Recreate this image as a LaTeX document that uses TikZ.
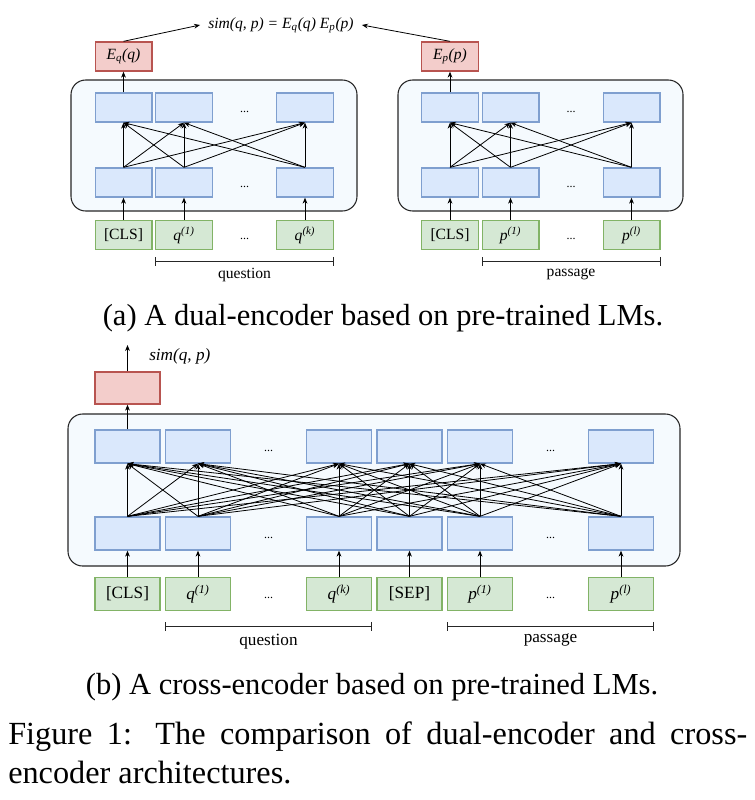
\documentclass[tikz,border=0pt]{standalone}
\usepackage{fontspec}
\setmainfont{Liberation Serif}
\usetikzlibrary{arrows.meta}

\definecolor{encfill}{HTML}{DAE8FC}
\definecolor{encdraw}{HTML}{7F9FCF}
\definecolor{tokfill}{HTML}{D5E8D4}
\definecolor{tokdraw}{HTML}{82B366}
\definecolor{outfill}{HTML}{F3CDCB}
\definecolor{outdraw}{HTML}{B85450}
\definecolor{panelfill}{HTML}{F5FAFE}

\tikzset{
  dualbox/.style={line width=1pt, minimum width=42.5pt, minimum height=21.75pt, inner sep=0pt, font=\fontsize{11.7}{14}\selectfont},
  crossbox/.style={line width=1pt, minimum width=48.75pt, minimum height=24.75pt, inner sep=0pt, font=\fontsize{12.9}{15}\selectfont},
  enc/.style={draw=encdraw, fill=encfill},
  tok/.style={draw=tokdraw, fill=tokfill},
  outp/.style={draw=outdraw, fill=outfill},
  panel/.style={draw=black!85, line width=0.8pt, fill=panelfill, rounded corners=11pt},
  arr/.style={-{Stealth[length=4.5pt,width=3.6pt]}, line width=0.6pt},
  brk/.style={{Bar[width=6.5pt]}-{Bar[width=6.5pt]}, line width=0.75pt, draw=black!85},
  dotsnode/.style={inner sep=0pt, font=\fontsize{9}{9}\selectfont},
}

\begin{document}
\begin{tikzpicture}[x=0.75pt,y=0.75pt,yscale=-1,xscale=1]
\useasboundingbox (0,0) rectangle (754,800);

%%% (a) dual-encoder

%Rounded Rect [left encoder]
\draw [panel] (71,80) rectangle (357,211);
%Rounded Rect [right encoder]
\draw [panel] (398,80) rectangle (683,211);

% left encoder: top row, bottom row, inputs
\node [dualbox, enc] (lt1) at (123.5,107.5) {};
\node [dualbox, enc] (lt2) at (184,107.5) {};
\node [dualbox, enc] (lt3) at (305,107.5) {};
\node [dualbox, enc] (lb1) at (123.5,182.5) {};
\node [dualbox, enc] (lb2) at (184,182.5) {};
\node [dualbox, enc] (lb3) at (305,182.5) {};
\node [dualbox, tok] (li1) at (123.5,235) {[CLS]};
\node [dualbox, tok] (li2) at (184,235) {\textit{q}\textsuperscript{\textit{(1)}}};
\node [dualbox, tok] (li3) at (305,235) {\textit{q}\textsuperscript{\textit{(k)}}};
\node [dotsnode] (ltd) at (244.5,112) {...};
\node [dotsnode] (lbd) at (244.5,187) {...};
\node [dotsnode] (lid) at (244.5,239) {...};

% right encoder: top row, bottom row, inputs
\node [dualbox, enc] (rt1) at (450,107.5) {};
\node [dualbox, enc] (rt2) at (510.5,107.5) {};
\node [dualbox, enc] (rt3) at (631.5,107.5) {};
\node [dualbox, enc] (rb1) at (450,182.5) {};
\node [dualbox, enc] (rb2) at (510.5,182.5) {};
\node [dualbox, enc] (rb3) at (631.5,182.5) {};
\node [dualbox, tok] (ri1) at (450,235) {[CLS]};
\node [dualbox, tok] (ri2) at (510.5,235) {\textit{p}\textsuperscript{\textit{(1)}}};
\node [dualbox, tok] (ri3) at (631.5,235) {\textit{p}\textsuperscript{\textit{(l)}}};
\node [dotsnode] (rtd) at (571,112) {...};
\node [dotsnode] (rbd) at (571,187) {...};
\node [dotsnode] (rid) at (571,239) {...};

% outputs and score
\node [dualbox, outp] (eq) at (123.5,56.5) {\textit{E}\textsubscript{\textit{q}}\textit{(q)}};
\node [dualbox, outp] (ep) at (450,56.5) {\textit{E}\textsubscript{\textit{p}}\textit{(p)}};
\node [inner sep=6pt, font=\fontsize{11.7}{14}\selectfont] (sim) at (281,25) {\textit{sim(q, p) = E\textsubscript{q}(q) E\textsubscript{p}(p)}};

% connectors
\foreach \i in {1,2,3} {
  \draw [arr] (li\i.north) -- (lb\i.south);
  \draw [arr] (ri\i.north) -- (rb\i.south);
  \foreach \j in {1,2,3} {
    \draw [arr] (lb\i.north) -- (lt\j.south);
    \draw [arr] (rb\i.north) -- (rt\j.south);
  }
}
\draw [arr] (lt1.north) -- (eq.south);
\draw [arr] (rt1.north) -- (ep.south);
\draw [arr] (eq.north) -- (sim.west);
\draw [arr] (ep.north) -- (sim.east);

% brackets
\draw [brk] ([yshift=8.25pt]li2.south west) -- ([yshift=8.25pt]li3.south east) node [midway, below=1.5pt, font=\fontsize{11.7}{14}\selectfont] (lq) {question};
\draw [brk] ([yshift=8.25pt]ri2.south west) -- ([yshift=8.25pt]ri3.south east) node [midway, below=1.5pt, font=\fontsize{11.7}{14}\selectfont] (rp) {passage};

% Text Node
\node [font=\fontsize{22.9}{26}\selectfont] (capa) at (383,318) {(a) A dual-encoder based on pre-trained LMs.};

%%% (b) cross-encoder

%Rounded Rect [cross encoder]
\draw [panel] (68,414) rectangle (680,566);

\node [crossbox, enc] (ct1) at (127.5,446.5) {};
\node [crossbox, enc] (ct2) at (198,446.5) {};
\node [crossbox, enc] (ct3) at (339,446.5) {};
\node [crossbox, enc] (ct4) at (409.5,446.5) {};
\node [crossbox, enc] (ct5) at (480,446.5) {};
\node [crossbox, enc] (ct6) at (621,446.5) {};
\node [crossbox, enc] (cb1) at (127.5,533.5) {};
\node [crossbox, enc] (cb2) at (198,533.5) {};
\node [crossbox, enc] (cb3) at (339,533.5) {};
\node [crossbox, enc] (cb4) at (409.5,533.5) {};
\node [crossbox, enc] (cb5) at (480,533.5) {};
\node [crossbox, enc] (cb6) at (621,533.5) {};
\node [crossbox, tok] (ci1) at (127.5,594) {[CLS]};
\node [crossbox, tok] (ci2) at (198,594) {\textit{q}\textsuperscript{\textit{(1)}}};
\node [crossbox, tok] (ci3) at (339,594) {\textit{q}\textsuperscript{\textit{(k)}}};
\node [crossbox, tok] (ci4) at (409.5,594) {[SEP]};
\node [crossbox, tok] (ci5) at (480,594) {\textit{p}\textsuperscript{\textit{(1)}}};
\node [crossbox, tok] (ci6) at (621,594) {\textit{p}\textsuperscript{\textit{(l)}}};
\node [dotsnode] (ctda) at (268.5,451) {...};
\node [dotsnode] (ctdb) at (550.5,451) {...};
\node [dotsnode] (cbda) at (268.5,538) {...};
\node [dotsnode] (cbdb) at (550.5,538) {...};
\node [dotsnode] (cida) at (268.5,598) {...};
\node [dotsnode] (cidb) at (550.5,598) {...};

\node [crossbox, outp, minimum height=24pt] (cout) at (127.5,388) {};
\coordinate (cscore) at (127.5,345);
\node [anchor=west, inner sep=0pt, font=\fontsize{12.9}{15}\selectfont] (csim) at (149,356) {\textit{sim(q, p)}};

\foreach \i in {1,...,6} {
  \draw [arr] (ci\i.north) -- (cb\i.south);
  \foreach \j in {1,...,6}
    \draw [arr] (cb\i.north) -- (ct\j.south);
}
\draw [arr] (ct1.north) -- (cout.south);
\draw [arr] (cout.north) -- (cscore);

\draw [brk] ([yshift=11.25pt]ci2.south west) -- ([yshift=11.25pt]ci3.south east) node [midway, below=2pt, font=\fontsize{12.9}{15}\selectfont] (cq) {question};
\draw [brk] ([yshift=11.25pt]ci5.south west) -- ([yshift=11.25pt]ci6.south east) node [midway, below=2pt, font=\fontsize{12.9}{15}\selectfont] (cp) {passage};

% Text Node
\node [font=\fontsize{22.9}{26}\selectfont] (capb) at (372,687) {(b) A cross-encoder based on pre-trained LMs.};

% Figure caption
\node [anchor=west, inner sep=0pt, font=\fontsize{24.2}{28}\selectfont] (figa) at (8,737) {\makebox[554.25pt][s]{Figure 1: The comparison of dual-encoder and cross-}};
\node [anchor=west, inner sep=0pt, font=\fontsize{24.2}{28}\selectfont] (figb) at (8,773) {encoder architectures.};

\end{tikzpicture}
\end{document}
